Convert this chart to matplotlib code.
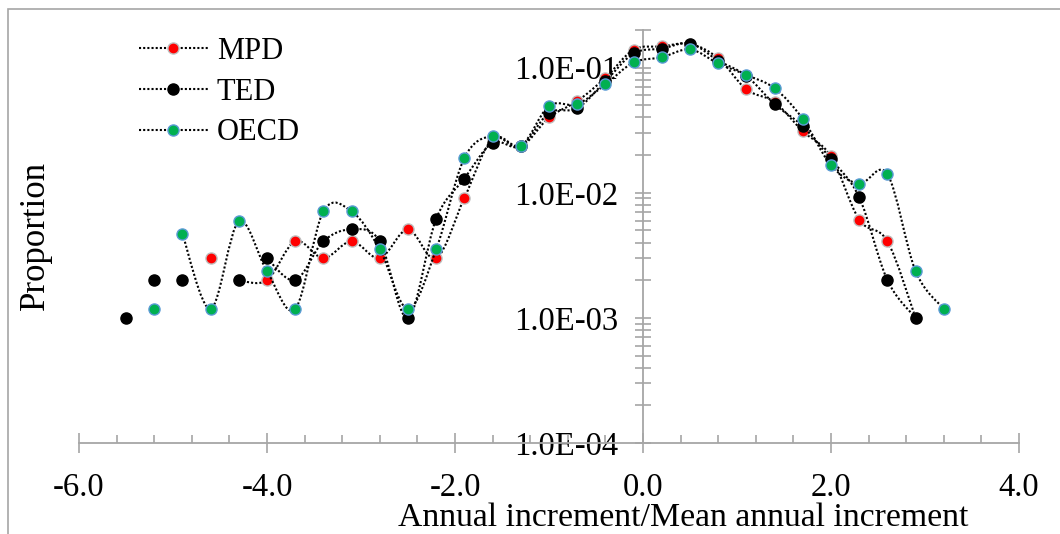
import matplotlib
matplotlib.use("Agg")
import matplotlib.pyplot as plt
import numpy as np
from matplotlib.path import Path
from matplotlib.patches import PathPatch, Rectangle
from matplotlib.lines import Line2D
from matplotlib.ticker import FixedLocator, MultipleLocator, FuncFormatter, NullFormatter

plt.rcParams["font.family"] = ["Liberation Serif", "DejaVu Serif"]
plt.rcParams["axes.unicode_minus"] = False

nan = np.nan

# NaN entries break the line (Excel gaps)
mpd_x = [-4.6, nan, -4.3, -4.0, -3.7, -3.4, -3.1, -2.8, -2.5, -2.2, -1.9, -1.6, -1.3, -1.0,
         -0.7, -0.4, -0.1, 0.2, 0.5, 0.8, 1.1, 1.4, 1.7, 2.0, 2.3, 2.6, 2.9]
mpd_y = [0.003, nan, 0.002, 0.002, 0.0041, 0.003, 0.0041, 0.003, 0.0051, 0.003, 0.0091, 0.027,
         0.0235, 0.040, 0.054, 0.083, 0.139, 0.148, 0.155, 0.119, 0.067, 0.053, 0.031, 0.0195,
         0.0061, 0.0041, 0.001]

ted_x = [-5.5, nan, -5.2, nan, -4.9, nan, -4.3, nan, -4.0, -3.7, -3.4, -3.1, -2.8, -2.5, -2.2,
         -1.9, -1.6, -1.3, -1.0, -0.7, -0.4, -0.1, 0.2, 0.5, 0.8, 1.1, 1.4, 1.7, 2.0, 2.3, 2.6, 2.9]
ted_y = [0.001, nan, 0.002, nan, 0.002, nan, 0.002, nan, 0.003, 0.002, 0.0041, 0.0051, 0.0041,
         0.001, 0.0062, 0.013, 0.025, 0.0235, 0.0435, 0.0473, 0.078, 0.130, 0.142, 0.156, 0.114,
         0.086, 0.051, 0.034, 0.0185, 0.0092, 0.002, 0.001]

oecd_x = [-5.2, nan, -4.9, -4.6, -4.3, -4.0, -3.7, -3.4, -3.1, -2.8, -2.5, -2.2, -1.9, -1.6, -1.3,
          -1.0, -0.7, -0.4, -0.1, 0.2, 0.5, 0.8, 1.1, 1.4, 1.7, 2.0, 2.3, 2.6, 2.9, 3.2]
oecd_y = [0.00118, nan, 0.0047, 0.00118, 0.0059, 0.00236, 0.00118, 0.0071, 0.0071, 0.00353,
          0.00118, 0.00353, 0.019, 0.0285, 0.0237, 0.0495, 0.051, 0.0736, 0.110, 0.121, 0.140,
          0.108, 0.0874, 0.0684, 0.0389, 0.0166, 0.0118, 0.0141, 0.00236, 0.00118]

names = ["MPD", "TED", "OECD"]
faces = ["#ff0000", "#000000", "#00b050"]
edges = ["#bfbfbf", "#000000", "#5b9bd5"]

y_ticks = [1e-4, 1e-3, 1e-2, 1e-1]


def smooth_path(xs, ys):
    # excel style smoothed line: cubic bezier through the points (in x, log y)
    xs = np.asarray(xs, float)
    ly = np.log10(np.asarray(ys, float))
    verts, codes = [], []
    breaks = np.where(np.isnan(ly))[0]
    start = 0
    for stop in list(breaks) + [len(ly)]:
        px, py = xs[start:stop], ly[start:stop]
        start = stop + 1
        n = len(px)
        if n < 2:
            continue
        verts.append((px[0], py[0]))
        codes.append(Path.MOVETO)
        for i in range(n - 1):
            a = max(i - 1, 0)
            d = min(i + 2, n - 1)
            c1 = (px[i] + (px[i + 1] - px[a]) / 6, py[i] + (py[i + 1] - py[a]) / 6)
            c2 = (px[i + 1] - (px[d] - px[i]) / 6, py[i + 1] - (py[d] - py[i]) / 6)
            verts += [c1, c2, (px[i + 1], py[i + 1])]
            codes += [Path.CURVE4] * 3
    verts = np.array(verts)
    verts[:, 1] = 10 ** verts[:, 1]
    return Path(verts, codes)


fig = plt.figure(figsize=(10.6, 5.34), dpi=100)
ax = fig.add_axes([79 / 1060, 1 - 443 / 534, 940 / 1060, 413 / 534])
ax.set_yscale("log")
ax.set_xlim(-6, 4)
ax.set_ylim(1e-4, 0.2)

dots = (0, (1, 1))
handles = []
for k, (xs, ys) in enumerate([(mpd_x, mpd_y), (ted_x, ted_y), (oecd_x, oecd_y)]):
    ax.add_patch(PathPatch(smooth_path(xs, ys), fill=False, ec="black", lw=1.5,
                           linestyle=dots, zorder=3 + 2 * k))
    ax.plot(xs, ys, ls="none", marker="o", ms=8, mfc=faces[k], mec=edges[k], mew=1,
            zorder=4 + 2 * k)
    handles.append(Line2D([], [], color="black", lw=1.5, ls=dots, marker="o", ms=8,
                          mfc=faces[k], mec=edges[k], mew=1))

gray = "#a6a6a6"
for s in ["top", "right"]:
    ax.spines[s].set_visible(False)
ax.spines["left"].set_position(("data", 0))
ax.spines["left"].set_color(gray)
ax.spines["bottom"].set_color(gray)
ax.spines["left"].set_linewidth(1.3)
ax.spines["bottom"].set_linewidth(1.3)

ax.xaxis.set_major_locator(MultipleLocator(2.0))
ax.xaxis.set_minor_locator(MultipleLocator(0.4))
ax.xaxis.set_major_formatter(FuncFormatter(lambda v, p: f"{v:.1f}"))
ax.yaxis.set_major_locator(FixedLocator(y_ticks))
ax.yaxis.set_minor_locator(matplotlib.ticker.LogLocator(base=10, subs=np.arange(2, 10)))
ax.yaxis.set_major_formatter(FuncFormatter(lambda v, p: f"{v:.1E}"))
ax.yaxis.set_minor_formatter(NullFormatter())

ax.tick_params(axis="x", which="major", direction="inout", length=14, width=1.2, color=gray,
               labelsize=23.5, pad=14)
ax.tick_params(axis="x", which="minor", direction="in", length=6, width=1.2, color=gray)
ax.tick_params(axis="y", which="both", direction="inout", length=11, width=1.2, color=gray,
               labelsize=23.5, pad=12)
ax.patch.set_visible(False)

fig.text(35 / 1060, 1 - 236 / 534, "Proportion", rotation=90, ha="center", va="center",
         fontsize=25)
fig.text(683 / 1060, 1 - 518 / 534, "Annual increment/Mean annual increment", ha="center",
         va="center", fontsize=24.3)

fig.legend(handles, names, loc="upper left", bbox_to_anchor=(139 / 1060, 1 - 37 / 534),
           frameon=False, fontsize=22, handlelength=2.25, handletextpad=0.3,
           labelspacing=0.38, borderpad=0, borderaxespad=0)

fig.add_artist(Rectangle((8 / 1060, -0.1), 1.5, 1.1 - 9 / 534, transform=fig.transFigure,
                         fill=False, ec="#a6a6a6", lw=1.2))

fig.savefig("out.png", dpi=100)
